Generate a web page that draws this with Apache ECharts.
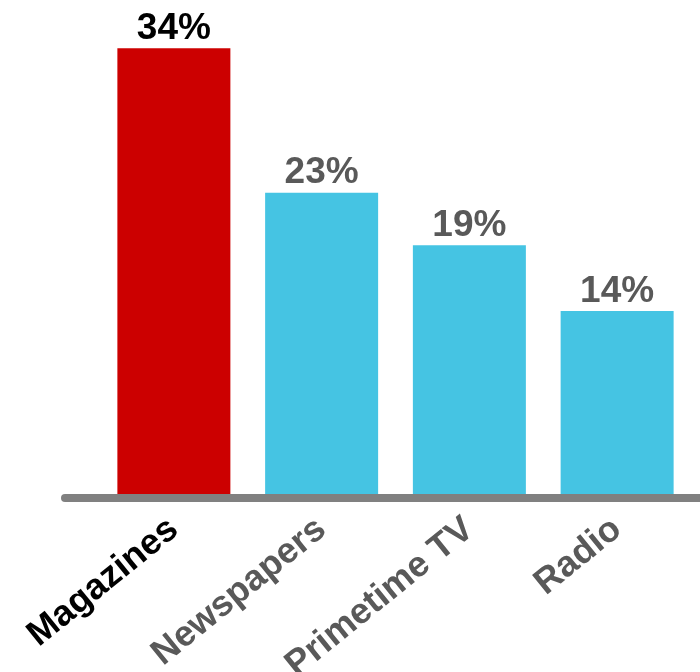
<!DOCTYPE html>
<html>
<head>
<meta charset="utf-8">
<script src="https://cdn.jsdelivr.net/npm/echarts@6/dist/echarts.min.js"></script>
<style>html,body{margin:0;padding:0;background:#fff}#c{width:700px;height:672px}</style>
</head>
<body>
<div id="c"></div>
<script>
var categories = ['Magazines', 'Newspapers', 'Primetime TV', 'Radio'];
var values = [34, 23, 19, 14];
var barColors = ['#CC0000', '#45C4E3', '#45C4E3', '#45C4E3'];
var textColors = ['#000000', '#595959', '#595959', '#595959'];

var chart = echarts.init(document.getElementById('c'), null, {renderer: 'canvas'});
var font = '"Liberation Sans", Arial, sans-serif';
var data = values.map(function (v, i) {
  return {
    value: v,
    itemStyle: {color: barColors[i]},
    label: {color: textColors[i]}
  };
});
chart.setOption({
  animation: false,
  backgroundColor: '#ffffff',
  grid: [
    {left: 100, right: 9, top: 35, bottom: 177, containLabel: false, outerBoundsMode: 'none'},
    {left: 65, right: 0, top: 400, bottom: 174, containLabel: false, outerBoundsMode: 'none'}
  ],
  xAxis: [
    {
      type: 'category', gridIndex: 0, data: categories,
      axisLine: {show: false}, axisTick: {show: false},
      axisLabel: {
        rotate: 39, margin: 30, interval: 0,
        fontFamily: font, fontWeight: 'bold', fontSize: 36,
        color: function (val, idx) { return textColors[categories.indexOf(val)]; }
      }
    },
    {
      type: 'value', gridIndex: 1, min: 0, max: 1, z: 10,
      axisLine: {show: true, lineStyle: {color: '#808080', width: 8}},
      axisTick: {show: false}, axisLabel: {show: false}, splitLine: {show: false}
    }
  ],
  yAxis: [
    {type: 'value', gridIndex: 0, min: 0, max: 35, show: false, splitLine: {show: false}},
    {type: 'value', gridIndex: 1, show: false, splitLine: {show: false}}
  ],
  series: [{
    type: 'bar', xAxisIndex: 0, yAxisIndex: 0,
    data: data, barWidth: 113,
    label: {
      show: true, position: 'top', distance: 1,
      formatter: '{c}%', fontFamily: font, fontWeight: 'bold', fontSize: 37
    }
  }]
});
</script>
</body>
</html>
